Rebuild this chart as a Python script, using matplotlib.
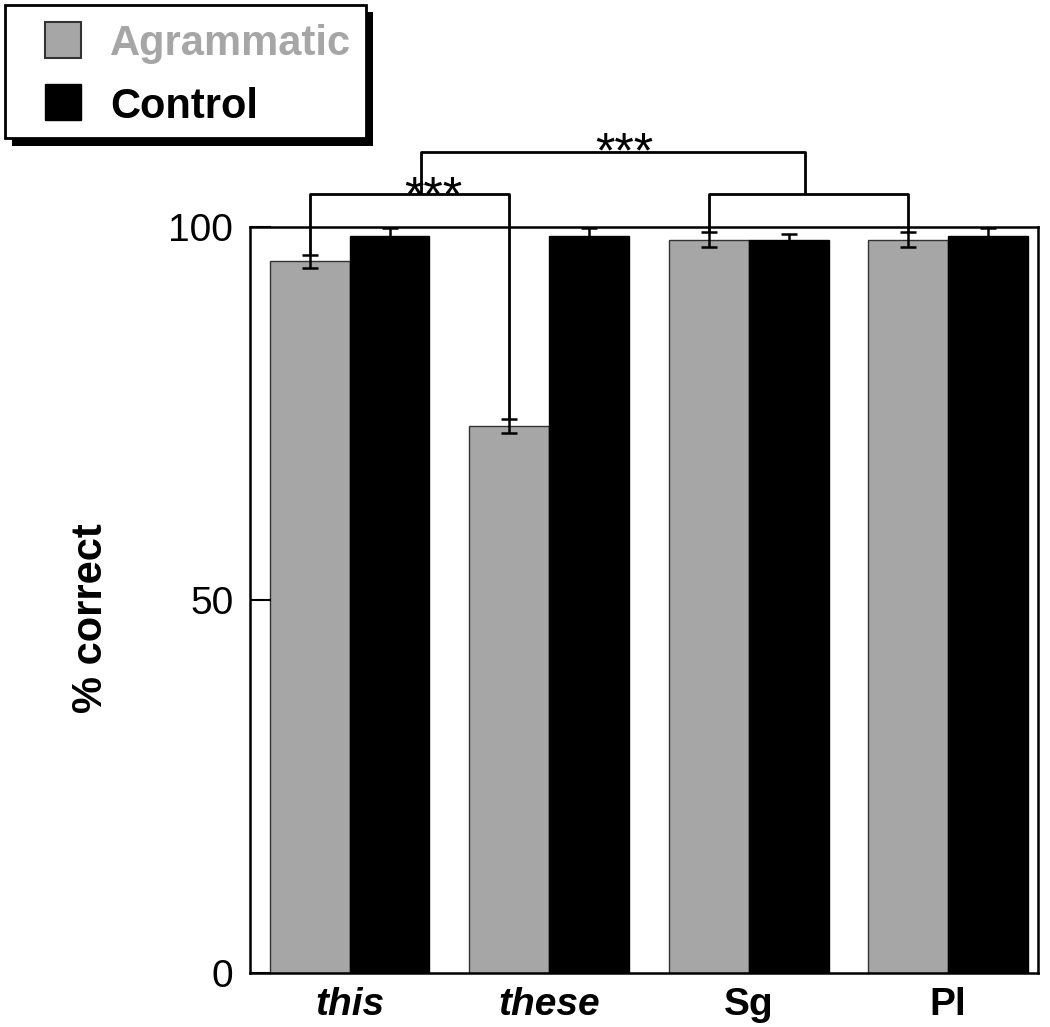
import numpy as np
import matplotlib.pyplot as plt
from matplotlib.patches import Rectangle

plt.rcParams['font.family'] = ['Liberation Sans', 'DejaVu Sans']

groups = ['this', 'these', 'Sg', 'Pl']
agrammatic = [95.4, 73.3, 98.3, 98.3]
agrammatic_err = [0.9, 0.9, 1.0, 1.0]
control = [98.8, 98.8, 98.3, 98.8]
control_err = [1.1, 1.1, 0.8, 1.1]

gray = '#a6a6a6'
x = np.arange(len(groups))
w = 0.4
W, H = 1050, 1027

fig = plt.figure(figsize=(W / 100, H / 100), dpi=100)
ax = fig.add_axes([0.238, 0.0526, 0.7506, 0.7264])

ekw = dict(elinewidth=1.8, capthick=1.8, capsize=6, ecolor='black')
ax.bar(x - w / 2, agrammatic, w, color=gray, edgecolor='#333333', linewidth=1,
       yerr=agrammatic_err, error_kw=ekw, label='Agrammatic')
ax.bar(x + w / 2, control, w, color='black', edgecolor='black', linewidth=1,
       yerr=control_err, error_kw=ekw, label='Control')

ax.set_xlim(-0.5, 3.45)
ax.set_ylim(0, 100)
ax.set_yticks([0, 50, 100])
ax.tick_params(axis='y', direction='in', length=15, width=1.5, labelsize=28, pad=12)
ax.tick_params(axis='x', length=0, labelsize=28, pad=10)
ax.set_xticks(x)
ax.set_xticklabels(groups, fontweight='bold')
for lab in ax.get_xticklabels()[:2]:
    lab.set_style('italic')
for s in ax.spines.values():
    s.set_linewidth(1.8)
ax.set_ylabel('% correct', fontsize=30, fontweight='bold')
ax.yaxis.set_label_coords(-0.176, 0.476)

# significance brackets
bk = dict(color='black', lw=2, clip_on=False, solid_capstyle='butt')
ax.plot([-w / 2, -w / 2, 1 - w / 2, 1 - w / 2],
        [agrammatic[0] + agrammatic_err[0], 104.4, 104.4, agrammatic[1] + agrammatic_err[1]], **bk)
ax.plot([2 - w / 2, 2 - w / 2, 3 - w / 2, 3 - w / 2],
        [agrammatic[2] + agrammatic_err[2], 104.4, 104.4, agrammatic[3] + agrammatic_err[3]], **bk)
ax.plot([0.357, 0.357, 2.28, 2.28], [104.4, 110.0, 110.0, 104.4], **bk)
ax.text(0.417, 102.1, '***', ha='center', va='baseline', fontsize=36, clip_on=False)
ax.text(1.374, 108.0, '***', ha='center', va='baseline', fontsize=36, clip_on=False)

# legend box with drop shadow (pixel coords from top-left)
def box(x0, y0, x1, y1, **kw):
    fig.add_artist(Rectangle((x0 / W, 1 - y1 / H), (x1 - x0) / W, (y1 - y0) / H,
                             transform=fig.transFigure, **kw))

box(12, 12, 373, 146, facecolor='black', edgecolor='none')
box(5, 5, 366, 138, facecolor='white', edgecolor='black', linewidth=2)
box(45, 22, 81, 58, facecolor=gray, edgecolor='#333333', linewidth=1.5)
box(45, 84, 81, 120, facecolor='black', edgecolor='black')
fig.text(110 / W, 1 - 55 / H, 'Agrammatic', color=gray, fontsize=30,
         fontweight='bold', va='baseline')
fig.text(110 / W, 1 - 118 / H, 'Control', color='black', fontsize=30,
         fontweight='bold', va='baseline')

fig.savefig('out.png', dpi=100)
